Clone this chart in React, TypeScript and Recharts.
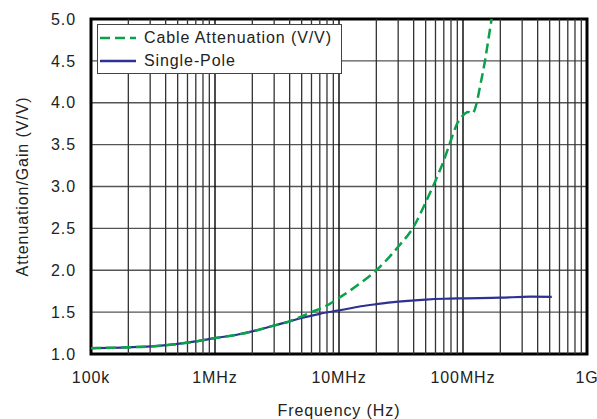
import React from "react";
import {
  LineChart,
  Line,
  XAxis,
  YAxis,
  CartesianGrid,
  ReferenceLine,
  ReferenceArea,
  Legend,
} from "recharts";

const FONT = '"Liberation Sans", Arial, sans-serif';
const SPACING = 0.9;

const seriesNames = ["Cable Attenuation (V/V)", "Single-Pole"];
const seriesColors = ["#0aa14b", "#2e3192"];

const cableFreq = [
  1e5, 2e5, 3e5, 5e5, 7e5, 1e6, 1.5e6, 2e6, 3e6, 4e6, 5e6, 6e6, 7e6, 8e6, 1e7,
  1.5e7, 2e7, 3e7, 4e7, 5e7, 6e7, 7e7, 8e7, 9e7, 1e8, 1.1e8, 1.175e8, 1.23e8,
  1.29e8, 1.37e8, 1.5e8, 1.6e8, 1.7e8,
];
const cableValues = [
  1.07, 1.08, 1.09, 1.12, 1.15, 1.19, 1.23, 1.27, 1.34, 1.39, 1.45, 1.5, 1.54,
  1.58, 1.67, 1.85, 2.0, 2.28, 2.52, 2.81, 3.07, 3.31, 3.555, 3.755, 3.85, 3.89,
  3.87, 3.9, 4.0, 4.19, 4.49, 4.75, 5.0,
];

const poleFreq = [
  1e5, 2e5, 3e5, 5e5, 7e5, 1e6, 1.5e6, 2e6, 3e6, 4e6, 5e6, 7e6, 1e7, 1.5e7,
  2e7, 3e7, 5e7, 7e7, 1e8, 2e8, 3.5e8, 5.2e8,
];
const poleValues = [
  1.07, 1.08, 1.09, 1.12, 1.15, 1.19, 1.23, 1.27, 1.34, 1.39, 1.43, 1.48, 1.52,
  1.57, 1.595, 1.625, 1.65, 1.66, 1.665, 1.672, 1.684, 1.683,
];

const xTicks = [1e5, 1e6, 1e7, 1e8, 1e9];
const xTickLabels = ["100k", "1MHz", "10MHz", "100MHz", "1G"];
const yTicks = [1, 1.5, 2, 2.5, 3, 3.5, 4, 4.5, 5];
const minorSteps = [2, 3, 4, 5, 6, 7, 8, 9];

const cableData = cableFreq.map((f, i) => ({ f, v: cableValues[i] }));
const poleData = poleFreq.map((f, i) => ({ f, v: poleValues[i] }));
const minorLines = xTicks
  .slice(0, -1)
  .flatMap((d) => minorSteps.map((m) => m * d));

const textStyle = { fill: "#222", fontSize: 16, letterSpacing: SPACING };

function LegendBox() {
  return (
    <div
      style={{
        border: "1px solid #444",
        background: "#fff",
        fontFamily: FONT,
        fontSize: 16,
        letterSpacing: SPACING,
        color: "#222",
        padding: "1px 9px 1px 2px",
        lineHeight: "23px",
      }}
    >
      {seriesNames.map((name, i) => (
        <div key={name} style={{ display: "flex", alignItems: "center" }}>
          <svg width={36} height={10} style={{ marginRight: 8 }}>
            <line
              x1={0}
              y1={5}
              x2={36}
              y2={5}
              stroke={seriesColors[i]}
              strokeWidth={2.5}
              strokeDasharray={i === 0 ? "10 5" : undefined}
            />
          </svg>
          <span>{name}</span>
        </div>
      ))}
    </div>
  );
}

export default function App() {
  return (
    <div style={{ position: "absolute", left: 0, top: 0, background: "#fff" }}>
      <LineChart
        width={597}
        height={419}
        margin={{ top: 19, right: 10, bottom: 0, left: 0 }}
        style={{ fontFamily: FONT }}
      >
        <CartesianGrid vertical={false} stroke="#555" strokeWidth={1.4} />
        {minorLines.map((f) => (
          <ReferenceLine key={f} x={f} stroke="#333" strokeWidth={1.3} />
        ))}
        {xTicks.slice(1, -1).map((f) => (
          <ReferenceLine key={"d" + f} x={f} stroke="#000" strokeWidth={1.4} />
        ))}
        <XAxis
          dataKey="f"
          type="number"
          scale="log"
          domain={[1e5, 1e9]}
          ticks={xTicks}
          interval={0}
          allowDataOverflow
          tickFormatter={(v: number) => xTickLabels[xTicks.indexOf(v)] ?? ""}
          tickLine={false}
          axisLine={false}
          tickMargin={12}
          height={65}
          tick={textStyle}
          label={{
            value: "Frequency (Hz)",
            position: "insideBottom",
            offset: 3,
            ...textStyle,
          }}
        />
        <YAxis
          type="number"
          domain={[1, 5]}
          ticks={yTicks}
          interval={0}
          allowDataOverflow
          tickFormatter={(v: number) => v.toFixed(1)}
          tickLine={false}
          axisLine={false}
          tickMargin={9}
          width={91}
          tick={textStyle}
          label={{
            value: "Attenuation/Gain (V/V)",
            angle: -90,
            position: "insideLeft",
            offset: 22,
            ...textStyle,
            style: { textAnchor: "middle" },
          }}
        />
        <Line
          data={poleData}
          dataKey="v"
          name={seriesNames[1]}
          type="monotone"
          stroke={seriesColors[1]}
          strokeWidth={2.2}
          dot={false}
          isAnimationActive={false}
        />
        <Line
          data={cableData}
          dataKey="v"
          name={seriesNames[0]}
          type="monotone"
          stroke={seriesColors[0]}
          strokeWidth={2.5}
          strokeDasharray="10 5"
          dot={false}
          isAnimationActive={false}
        />
        <ReferenceArea
          x1={1e5}
          x2={1e9}
          y1={1}
          y2={5}
          fill="none"
          stroke="#000"
          strokeWidth={3}
        />
        <Legend
          layout="horizontal"
          verticalAlign="middle"
          align="center"
          wrapperStyle={{ left: 97, top: 24, width: "auto" }}
          content={() => <LegendBox />}
        />
      </LineChart>
    </div>
  );
}
